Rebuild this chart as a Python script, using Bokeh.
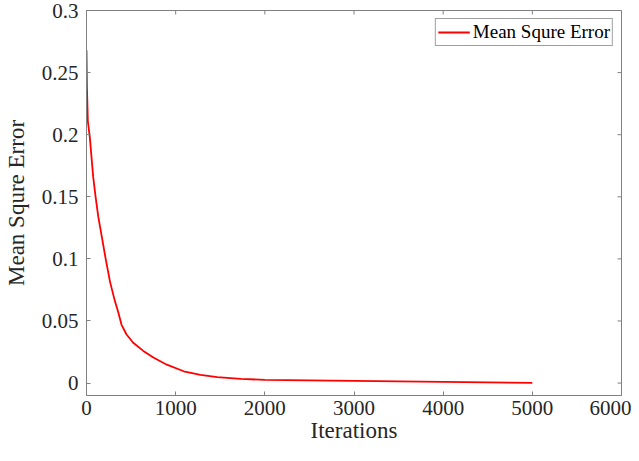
import math
from bokeh.plotting import figure
from bokeh.models import Range1d, FixedTicker, Legend, LegendItem
from bokeh.embed import file_html
from bokeh.resources import INLINE

iterations = [0, 5, 15, 37, 75, 102, 132, 170, 215, 264, 320, 354, 392, 449, 524,
              637, 750, 901, 1090, 1278, 1467, 1731, 2000, 2500, 3000, 3500, 4000,
              4500, 5000]
mse = [0.268, 0.238, 0.211, 0.198, 0.166, 0.150, 0.134, 0.1185, 0.1, 0.0815,
       0.0656, 0.0576, 0.0471, 0.0391, 0.0325, 0.0259, 0.0206, 0.0148, 0.0095,
       0.0066, 0.0048, 0.0034, 0.0026, 0.0022, 0.0018, 0.0014, 0.0010, 0.0006,
       0.0002]

x_ticks = [0, 1000, 2000, 3000, 4000, 5000, 6000]
y_ticks = [0, 0.05, 0.1, 0.15, 0.2, 0.25, 0.3]
y_tick_labels = {0: "0", 0.05: "0.05", 0.1: "0.1", 0.15: "0.15", 0.2: "0.2", 0.25: "0.25", 0.3: "0.3"}
x_min, x_max = 0, 6000
y_min, y_max = -0.01, 0.3

FONT = "Liberation Serif"
TXT = "#262626"
AX = "#808080"

p = figure(width=631, height=445, output_backend="svg", toolbar_location=None,
           x_range=Range1d(x_min, x_max), y_range=Range1d(y_min, y_max),
           min_border_left=79, min_border_right=10, min_border_top=10, min_border_bottom=0)
p.grid.visible = False
p.outline_line_color = AX
p.outline_line_width = 1
p.background_fill_color = "white"
p.border_fill_color = "white"

# mirrored inward ticks on the top and right edges (clipped to the frame)
p.scatter(x=x_ticks, y=[y_max] * len(x_ticks), marker="dash", size=8,
          angle=math.pi / 2, line_color=AX, line_width=1)
p.scatter(x=[x_max] * len(y_ticks), y=y_ticks, marker="dash", size=8,
          line_color=AX, line_width=1)

line = p.line(iterations, mse, line_color="#ff0000", line_width=1.8)

for ax in (p.xaxis[0], p.yaxis[0]):
    ax.axis_line_color = AX
    ax.major_tick_line_color = AX
    ax.major_tick_in = 4
    ax.major_tick_out = 0
    ax.minor_tick_line_color = None
    ax.major_label_text_font = FONT
    ax.major_label_text_font_size = "21px"
    ax.major_label_text_color = TXT
    ax.axis_label_text_font = FONT
    ax.axis_label_text_font_size = "23px"
    ax.axis_label_text_font_style = "normal"
    ax.axis_label_text_color = TXT

p.xaxis[0].ticker = FixedTicker(ticks=x_ticks)
p.yaxis[0].ticker = FixedTicker(ticks=y_ticks)
p.yaxis[0].major_label_overrides = y_tick_labels
p.xaxis[0].axis_label = "Iterations"
p.yaxis[0].axis_label = "Mean Squre Error"
p.xaxis[0].major_label_standoff = 5
p.xaxis[0].axis_label_standoff = 0
p.yaxis[0].major_label_standoff = 8
p.yaxis[0].axis_label_standoff = 10

legend = Legend(items=[LegendItem(label="Mean Squre Error", renderers=[line])],
                location="top_right")
legend.label_text_font = FONT
legend.label_text_font_size = "19px"
legend.label_text_color = "black"
legend.border_line_color = "#404040"
legend.border_line_width = 1
legend.margin = 8
legend.padding = 2
legend.spacing = 0
legend.glyph_width = 32
legend.glyph_height = 20
legend.label_height = 20
legend.label_standoff = 3
legend.background_fill_alpha = 1
p.add_layout(legend, "center")

open("out.html", "w").write(file_html(p, INLINE))
